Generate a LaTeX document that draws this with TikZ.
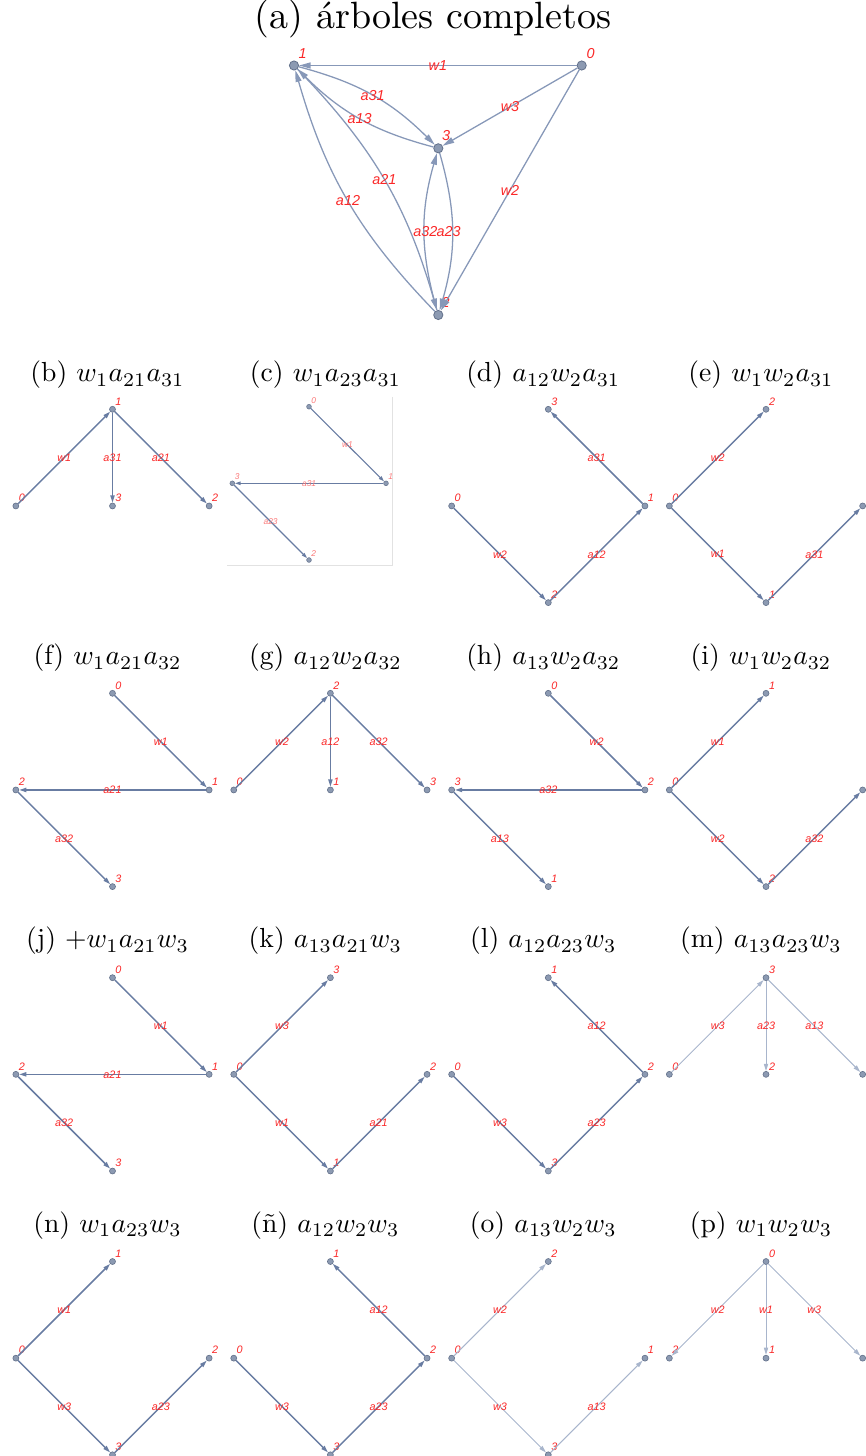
\documentclass[tikz,border=0pt]{standalone}
\usepackage{fontspec}
\usepackage{graphicx}
\newfontfamily\lblfont{Liberation Sans}
\usetikzlibrary{arrows.meta}

\definecolor{edgedark}{RGB}{104,124,162}
\definecolor{edgelight}{RGB}{168,181,204}
\definecolor{edgetop}{RGB}{135,152,184}
\definecolor{vfill}{RGB}{140,154,178}
\definecolor{vdraw}{RGB}{98,112,138}
\definecolor{lblred}{RGB}{250,40,40}
\definecolor{lblpink}{RGB}{250,120,120}
\definecolor{framegray}{RGB}{226,226,226}

\def\hs{96.65}

\tikzset{
  vtx/.style={circle, fill=vfill, draw=vdraw, line width=0.15pt, inner sep=0pt, minimum size=1.5pt},
  bigvtx/.style={vtx, minimum size=2.3pt, line width=0.2pt},
  smallvtx/.style={vtx, minimum size=1.2pt, line width=0.12pt},
  nlbl/.style={text=lblred, font=\lblfont\itshape\fontsize{2.7}{2.7}\selectfont, inner sep=0pt},
  elbl/.style={nlbl},
  tlbl/.style={text=lblred, font=\lblfont\itshape\fontsize{3.6}{3.6}\selectfont, inner sep=0pt},
  clbl/.style={text=lblpink, font=\lblfont\itshape\fontsize{2.1}{2.1}\selectfont, inner sep=0pt},
  sedge/.style={draw=edgedark, line width=0.36pt, -{Triangle[length=1.8pt,width=1.05pt]}},
  ledge/.style={draw=edgelight, line width=0.25pt, -{Triangle[length=1.8pt,width=1.05pt]}},
  cedge/.style={draw=edgedark, line width=0.28pt, -{Triangle[length=1.4pt,width=0.85pt]}},
  tedge/.style={draw=edgetop, line width=0.32pt, -{Triangle[length=2.9pt,width=1.5pt]}},
  bigtitle/.style={inner sep=0pt, font=\fontsize{9.5}{11}\selectfont},
  title/.style={inner sep=0pt, font=\fontsize{10}{12}\selectfont},
}

% caption of a small tree, set at 10pt and shrunk as a whole
\newcommand\subcap[1]{\scalebox{0.69}{#1}}
% vertex with its name set up and to the right
\newcommand\Vtx[4]{\node[vtx] (#1) at (#2,#3) {};
  \node[nlbl] (#1l) at (#2+6,#3-8) {#4};}
% vertex whose name falls outside the page
\newcommand\VtxN[3]{\node[vtx] (#1) at (#2,#3) {};}

\begin{document}
\begin{tikzpicture}[x=0.25pt,y=-0.25pt]
\useasboundingbox (0,0) rectangle (866,1456);
\clip (0,0) rectangle (866,1456);

% ---------- (a) complete graph ----------
\node[bigtitle] (ta) at (433,19) {(a) árboles completos};
\node[bigvtx] (A1) at (294,65.5) {};
\node[bigvtx] (A0) at (581.7,65.5) {};
\node[bigvtx] (A3) at (438.3,148.3) {};
\node[bigvtx] (A2) at (438.3,315) {};
\node[tlbl] (A1l) at (302.7,53.3) {1};
\node[tlbl] (A0l) at (590.7,53.3) {0};
\node[tlbl] (A3l) at (446,136) {3};
\node[tlbl] (A2l) at (445.7,302) {2};
\draw[tedge] (A0) -- node[tlbl]{w1} (A1);
\draw[tedge] (A0) -- node[tlbl]{w3} (A3);
\draw[tedge] (A0) -- node[tlbl]{w2} (A2);
\draw[tedge] (A1) to[bend left=15] node[tlbl]{a31} (A3);
\draw[tedge] (A3) to[bend left=15] node[tlbl]{a13} (A1);
\draw[tedge] (A1) to[bend left=14] node[tlbl]{a21} (A2);
\draw[tedge] (A2) to[bend left=14] node[tlbl]{a12} (A1);
\draw[tedge] (A2) to[bend left=16] node[tlbl, xshift=0.3pt]{a32} (A3);
\draw[tedge] (A3) to[bend left=16] node[tlbl, xshift=-0.9pt]{a23} (A2);

% ---------- row 1 ----------
\node[title] (tb) at (107.5,375) {\subcap{(b) $w_1a_{21}a_{31}$}};
\node[title] (tc) at (325.4,375) {\subcap{(c) $w_1a_{23}a_{31}$}};
\node[title] (td) at (543.3,375) {\subcap{(d) $a_{12}w_2a_{31}$}};
\node[title] (te) at (761,375) {\subcap{(e) $w_1w_2a_{31}$}};

\begin{scope}[shift={(112.5,409.3)}]
  \Vtx{b1}{0}{0}{1}
  \Vtx{b0}{-\hs}{\hs}{0}
  \Vtx{b3}{0}{\hs}{3}
  \Vtx{b2}{\hs}{\hs}{2}
  \draw[sedge] (b0) -- node[elbl]{w1} (b1);
  \draw[sedge] (b1) -- node[elbl]{a31} (b3);
  \draw[sedge] (b1) -- node[elbl]{a21} (b2);
\end{scope}

% (c) is a smaller, framed drawing
\draw[framegray, line width=0.25pt] (392.7,396.7) -- (392.7,565) -- (226.7,565);
\node[smallvtx] (c0) at (309,406.7) {};
\node[smallvtx] (c1) at (386,483.3) {};
\node[smallvtx] (c3) at (232.3,483.3) {};
\node[smallvtx] (c2) at (309,560) {};
\node[clbl] (c0l) at (313.8,400.2) {0};
\node[clbl] (c1l) at (390.8,476.8) {1};
\node[clbl] (c3l) at (237.1,476.8) {3};
\node[clbl] (c2l) at (313.8,553.5) {2};
\draw[cedge] (c0) -- node[clbl]{w1} (c1);
\draw[cedge] (c1) -- node[clbl]{a31} (c3);
\draw[cedge] (c3) -- node[clbl]{a23} (c2);

\begin{scope}[shift={(548.3,409.3)}]
  \Vtx{d3}{0}{0}{3}
  \Vtx{d0}{-\hs}{\hs}{0}
  \Vtx{d1}{\hs}{\hs}{1}
  \Vtx{d2}{0}{2*\hs}{2}
  \draw[sedge] (d1) -- node[elbl]{a31} (d3);
  \draw[sedge] (d0) -- node[elbl]{w2} (d2);
  \draw[sedge] (d2) -- node[elbl]{a12} (d1);
\end{scope}

\begin{scope}[shift={(766,409.3)}]
  \Vtx{e2}{0}{0}{2}
  \Vtx{e0}{-\hs}{\hs}{0}
  \VtxN{e3}{\hs}{\hs}
  \Vtx{e1}{0}{2*\hs}{1}
  \draw[sedge] (e0) -- node[elbl]{w2} (e2);
  \draw[sedge] (e0) -- node[elbl]{w1} (e1);
  \draw[sedge] (e1) -- node[elbl]{a31} (e3);
\end{scope}

% ---------- row 2 ----------
\node[title] (tf) at (107.5,658) {\subcap{(f) $w_1a_{21}a_{32}$}};
\node[title] (tg) at (325.4,658) {\subcap{(g) $a_{12}w_2a_{32}$}};
\node[title] (th) at (543.3,658) {\subcap{(h) $a_{13}w_2a_{32}$}};
\node[title] (ti) at (761,658) {\subcap{(i) $w_1w_2a_{32}$}};

\begin{scope}[shift={(112.5,693.3)}]
  \Vtx{f0}{0}{0}{0}
  \Vtx{f2}{-\hs}{\hs}{2}
  \Vtx{f1}{\hs}{\hs}{1}
  \Vtx{f3}{0}{2*\hs}{3}
  \draw[sedge] (f0) -- node[elbl]{w1} (f1);
  \draw[sedge] (f1) -- node[elbl]{a21} (f2);
  \draw[sedge] (f2) -- node[elbl]{a32} (f3);
\end{scope}

\begin{scope}[shift={(330.4,693.3)}]
  \Vtx{g2}{0}{0}{2}
  \Vtx{g0}{-\hs}{\hs}{0}
  \Vtx{g1}{0}{\hs}{1}
  \Vtx{g3}{\hs}{\hs}{3}
  \draw[sedge] (g0) -- node[elbl]{w2} (g2);
  \draw[sedge] (g2) -- node[elbl]{a12} (g1);
  \draw[sedge] (g2) -- node[elbl]{a32} (g3);
\end{scope}

\begin{scope}[shift={(548.3,693.3)}]
  \Vtx{h0}{0}{0}{0}
  \Vtx{h3}{-\hs}{\hs}{3}
  \Vtx{h2}{\hs}{\hs}{2}
  \Vtx{h1}{0}{2*\hs}{1}
  \draw[sedge] (h0) -- node[elbl]{w2} (h2);
  \draw[sedge] (h2) -- node[elbl]{a32} (h3);
  \draw[sedge] (h3) -- node[elbl]{a13} (h1);
\end{scope}

\begin{scope}[shift={(766,693.3)}]
  \Vtx{i1}{0}{0}{1}
  \Vtx{i0}{-\hs}{\hs}{0}
  \VtxN{i3}{\hs}{\hs}
  \Vtx{i2}{0}{2*\hs}{2}
  \draw[sedge] (i0) -- node[elbl]{w1} (i1);
  \draw[sedge] (i0) -- node[elbl]{w2} (i2);
  \draw[sedge] (i2) -- node[elbl]{a32} (i3);
\end{scope}

% ---------- row 3 ----------
\node[title] (tj) at (107.5,941) {\subcap{(j) $+w_1a_{21}w_3$}};
\node[title] (tk) at (325.4,941) {\subcap{(k) $a_{13}a_{21}w_3$}};
\node[title] (tl) at (543.3,941) {\subcap{(l) $a_{12}a_{23}w_3$}};
\node[title] (tm) at (761,941) {\subcap{(m) $a_{13}a_{23}w_3$}};

\begin{scope}[shift={(112.5,977.7)}]
  \Vtx{j0}{0}{0}{0}
  \Vtx{j2}{-\hs}{\hs}{2}
  \Vtx{j1}{\hs}{\hs}{1}
  \Vtx{j3}{0}{2*\hs}{3}
  \draw[sedge] (j0) -- node[elbl]{w1} (j1);
  \draw[sedge] (j1) -- node[elbl]{a21} (j2);
  \draw[sedge] (j2) -- node[elbl]{a32} (j3);
\end{scope}

\begin{scope}[shift={(330.4,977.7)}]
  \Vtx{k3}{0}{0}{3}
  \Vtx{k0}{-\hs}{\hs}{0}
  \Vtx{k2}{\hs}{\hs}{2}
  \Vtx{k1}{0}{2*\hs}{1}
  \draw[sedge] (k0) -- node[elbl]{w3} (k3);
  \draw[sedge] (k0) -- node[elbl]{w1} (k1);
  \draw[sedge] (k1) -- node[elbl]{a21} (k2);
\end{scope}

\begin{scope}[shift={(548.3,977.7)}]
  \Vtx{l1}{0}{0}{1}
  \Vtx{l0}{-\hs}{\hs}{0}
  \Vtx{l2}{\hs}{\hs}{2}
  \Vtx{l3}{0}{2*\hs}{3}
  \draw[sedge] (l2) -- node[elbl]{a12} (l1);
  \draw[sedge] (l0) -- node[elbl]{w3} (l3);
  \draw[sedge] (l3) -- node[elbl]{a23} (l2);
\end{scope}

\begin{scope}[shift={(766,977.7)}]
  \Vtx{m3}{0}{0}{3}
  \Vtx{m0}{-\hs}{\hs}{0}
  \Vtx{m2}{0}{\hs}{2}
  \VtxN{m1}{\hs}{\hs}
  \draw[ledge] (m0) -- node[elbl]{w3} (m3);
  \draw[ledge] (m3) -- node[elbl]{a23} (m2);
  \draw[ledge] (m3) -- node[elbl]{a13} (m1);
\end{scope}

% ---------- row 4 ----------
\node[title] (tn) at (107.5,1225.5) {\subcap{(n) $w_1a_{23}w_3$}};
\node[title] (tnn) at (325.4,1225.5) {\subcap{(ñ) $a_{12}w_2w_3$}};
\node[title] (to) at (543.3,1225.5) {\subcap{(o) $a_{13}w_2w_3$}};
\node[title] (tp) at (761,1225.5) {\subcap{(p) $w_1w_2w_3$}};

\begin{scope}[shift={(112.5,1261.5)}]
  \Vtx{n1}{0}{0}{1}
  \Vtx{n0}{-\hs}{\hs}{0}
  \Vtx{n2}{\hs}{\hs}{2}
  \Vtx{n3}{0}{2*\hs}{3}
  \draw[sedge] (n0) -- node[elbl]{w1} (n1);
  \draw[sedge] (n0) -- node[elbl]{w3} (n3);
  \draw[sedge] (n3) -- node[elbl]{a23} (n2);
\end{scope}

\begin{scope}[shift={(330.4,1261.5)}]
  \Vtx{q1}{0}{0}{1}
  \Vtx{q0}{-\hs}{\hs}{0}
  \Vtx{q2}{\hs}{\hs}{2}
  \Vtx{q3}{0}{2*\hs}{3}
  \draw[sedge] (q2) -- node[elbl]{a12} (q1);
  \draw[sedge] (q0) -- node[elbl]{w3} (q3);
  \draw[sedge] (q3) -- node[elbl]{a23} (q2);
\end{scope}

\begin{scope}[shift={(548.3,1261.5)}]
  \Vtx{o2}{0}{0}{2}
  \Vtx{o0}{-\hs}{\hs}{0}
  \Vtx{o1}{\hs}{\hs}{1}
  \Vtx{o3}{0}{2*\hs}{3}
  \draw[ledge] (o0) -- node[elbl]{w2} (o2);
  \draw[ledge] (o0) -- node[elbl]{w3} (o3);
  \draw[ledge] (o3) -- node[elbl]{a13} (o1);
\end{scope}

\begin{scope}[shift={(766,1261.5)}]
  \Vtx{p0}{0}{0}{0}
  \Vtx{p2}{-\hs}{\hs}{2}
  \Vtx{p1}{0}{\hs}{1}
  \VtxN{p3}{\hs}{\hs}
  \draw[ledge] (p0) -- node[elbl]{w2} (p2);
  \draw[ledge] (p0) -- node[elbl]{w1} (p1);
  \draw[ledge] (p0) -- node[elbl]{w3} (p3);
\end{scope}
\end{tikzpicture}
\end{document}
